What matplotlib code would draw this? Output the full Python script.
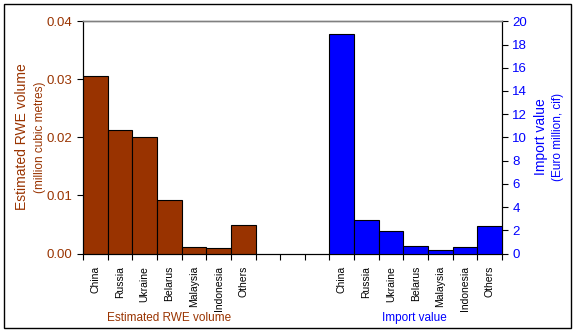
import matplotlib
matplotlib.use("Agg")
import matplotlib.pyplot as plt
from matplotlib.patches import Rectangle
import numpy as np

plt.rcParams['font.family'] = ['Liberation Sans', 'DejaVu Sans']

countries = ["China", "Russia", "Ukraine", "Belarus", "Malaysia", "Indonesia", "Others"]
rwe_volume = [0.0305, 0.0212, 0.0201, 0.0092, 0.00105, 0.00088, 0.0049]  # million m3
import_value = [18.9, 2.85, 1.93, 0.62, 0.27, 0.52, 2.35]  # Euro million, cif

BROWN = "#993300"
BLUE = "#0000FF"

W, H = 577, 332
fig = plt.figure(figsize=(W / 100, H / 100), dpi=100)
fig.patch.set_facecolor("white")
fig.patches.append(Rectangle((4 / W, 4 / H), (571 - 4) / W, (328 - 4) / H,
                             transform=fig.transFigure, fill=False,
                             edgecolor="black", linewidth=1.0))

ax = fig.add_axes([83 / W, 1 - 253.5 / H, (502 - 83) / W, (253.5 - 21.3) / H])
ax2 = ax.twinx()

n = len(countries)
gap = 3
pos1 = np.arange(n)
pos2 = np.arange(n) + n + gap

ax.bar(pos1, rwe_volume, width=1.0, color=BROWN, edgecolor="black", linewidth=0.8, zorder=3)
ax2.bar(pos2, import_value, width=1.0, color=BLUE, edgecolor="black", linewidth=0.8, zorder=3)

total = 2 * n + gap
ax.set_xlim(-0.5, total - 0.5)
ax.set_ylim(0, 0.04)
ax2.set_ylim(0, 20)

ax.set_yticks(np.arange(0, 0.041, 0.01))
ax.set_yticklabels([f"{v:.2f}" for v in np.arange(0, 0.041, 0.01)])
ax2.set_yticks(np.arange(0, 21, 2))

ax.set_xticks(np.arange(-0.5, total, 1.0))
ax.set_xticklabels([])
ax.set_xticks(list(pos1) + list(pos2), minor=True)
ax.set_xticklabels(countries + countries, minor=True, rotation=90, fontsize=7.5)
ax.tick_params(axis="x", which="minor", length=0, pad=9)
ax.tick_params(axis="x", which="major", length=4, width=0.8, direction="out")

ax.tick_params(axis="y", colors="black", labelcolor=BROWN, labelsize=9.5, length=4, width=0.8, direction="out")
ax2.tick_params(axis="y", colors="black", labelcolor=BLUE, labelsize=9.5, length=4, width=0.8, direction="out")

for a in (ax, ax2):
    a.spines["top"].set_color("#808080")
    a.spines["top"].set_linewidth(1.0)
    a.spines["left"].set_linewidth(0.8)
    a.spines["right"].set_linewidth(0.8)
    a.spines["bottom"].set_linewidth(0.8)
    a.patch.set_visible(False)

# axis titles
fig.text(22 / W, 1 - 137 / H, "Estimated RWE volume", rotation=90, color=BROWN,
         fontsize=10, ha="center", va="center")
fig.text(40 / W, 1 - 137 / H, "(million cubic metres)", rotation=90, color=BROWN,
         fontsize=8.5, ha="center", va="center")
fig.text(541 / W, 1 - 137 / H, "Import value", rotation=90, color=BLUE,
         fontsize=10, ha="center", va="center")
fig.text(558 / W, 1 - 137 / H, "(Euro million, cif)", rotation=90, color=BLUE,
         fontsize=8.5, ha="center", va="center")

# category group labels
fig.text(169 / W, 1 - 318 / H, "Estimated RWE volume", color=BROWN, fontsize=8.5,
         ha="center", va="center")
fig.text(414 / W, 1 - 318 / H, "Import value", color=BLUE, fontsize=8.5,
         ha="center", va="center")

fig.savefig("out.png", dpi=100)
